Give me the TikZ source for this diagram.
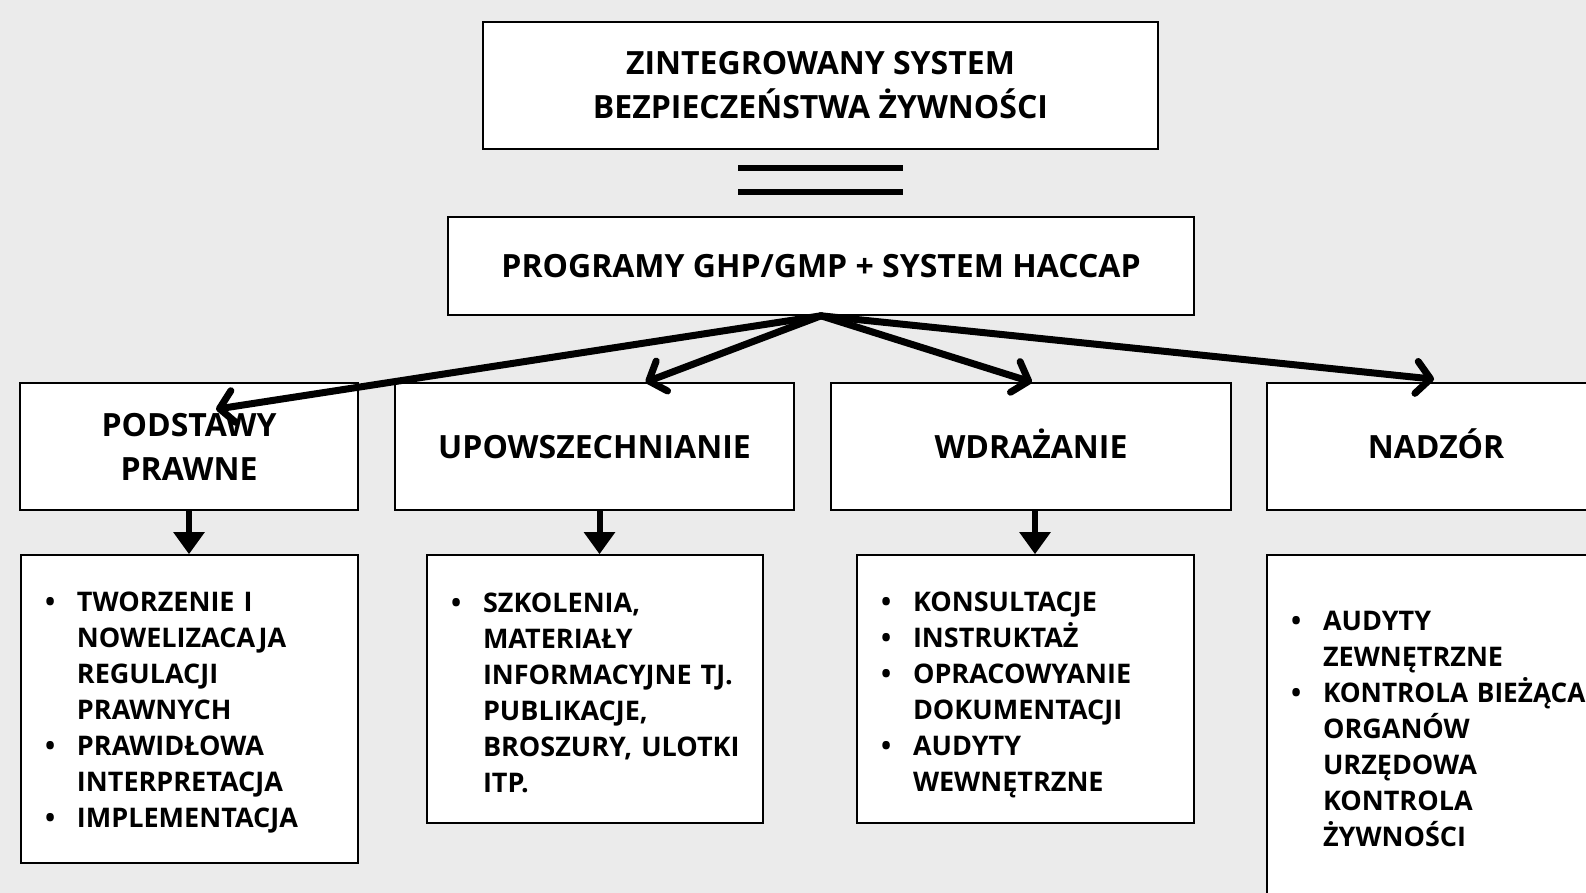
\documentclass[tikz,border=0pt]{standalone}
\usepackage{fontspec}
\usepackage{graphicx}
\setmainfont{Open Sans}
\usetikzlibrary{arrows.meta, calc}
\definecolor{bggray}{RGB}{235,235,235}
\tikzset{
  box/.style={
    rectangle,
    draw=black,
    line width=1.6pt,
    fill=white,
    align=center,
    inner sep=0pt,
    font=\bfseries\fontsize{32}{44}\selectfont
  },
  oneline/.style={text height=23pt, text depth=0pt},
  listbox/.style={
    box,
    align=left,
    inner xsep=24pt,
    font=\bfseries\fontsize{27}{36}\selectfont
  }
}
\tikzstyle{arrow} = [-{Straight Barb[length=14pt, width=32pt, line cap=round, line join=round]}, line width=7pt, line cap=round]
\tikzstyle{down} = [-{Triangle[length=22pt, width=30pt]}, line width=6pt]
\def\bul{\makebox[32pt][l]{\textbullet}}
\def\nob{\hspace*{32pt}}
\def\lift#1{\rule{0pt}{#1pt}}

\begin{document}
\begin{tikzpicture}[x=1pt, y=-1pt]
    \fill[bggray] (0,0) rectangle (1586,893);
    \useasboundingbox (0,0) rectangle (1586,893);
    \node[box, minimum width=675pt, minimum height=127pt] (zsbz) at (820.5, 85.5) {ZINTEGROWANY SYSTEM\\BEZPIECZEŃSTWA ŻYWNOŚCI};
    \draw[line width=6pt] (738,168) -- (903,168);
    \draw[line width=6pt] (738,192) -- (903,192);
    \node[box, oneline, minimum width=746pt, minimum height=98pt] (prog) at (821, 266) {PROGRAMY GHP/GMP + SYSTEM HACCAP};
    \node[box, minimum width=338pt, minimum height=127pt] (podst) at (189, 446.5) {PODSTAWY\\PRAWNE};
    \node[box, oneline, minimum width=399pt, minimum height=127pt] (upow) at (594.5, 446.5) {UPOWSZECHNIANIE};
    \node[box, oneline, minimum width=400pt, minimum height=127pt] (wdr) at (1031, 446.5) {WDRAŻANIE};
    \node[box, oneline, minimum width=338pt, minimum height=127pt] (nadz) at (1436, 446.5) {NADZÓR};
    \node[listbox, text width=289pt, minimum height=308pt] (lpodst) at (189.5, 709) {\lift{27}\bul TWORZENIE I\\\nob NOWELIZACAJA\\\nob REGULACJI\\\nob PRAWNYCH\\\bul PRAWIDŁOWA\\\nob INTERPRETACJA\\\bul IMPLEMENTACJA};
    \node[listbox, text width=288pt, minimum height=268pt] (lupow) at (595, 689) {\lift{27}\bul SZKOLENIA,\\\nob MATERIAŁY\\\nob INFORMACYJNE TJ.\\\nob PUBLIKACJE,\\\nob \mbox{BROSZURY, ULOTKI}\\\nob ITP.};
    \node[listbox, text width=289pt, minimum height=268pt] (lwdr) at (1025.5, 689) {\lift{31}\bul KONSULTACJE\\\bul INSTRUKTAŻ\\\bul OPRACOWYANIE\\\nob DOKUMENTACJI\\\bul AUDYTY\\\nob WEWNĘTRZNE};
    \node[listbox, text width=330pt, minimum height=348pt] (lnadz) at (1456, 729) {\bul AUDYTY\\\nob ZEWNĘTRZNE\\\bul \scalebox{0.97}[1]{KONTROLA BIEŻĄCA}\\\nob ORGANÓW\\\nob URZĘDOWA\\\nob KONTROLA\\\nob ŻYWNOŚCI};
    \draw[arrow] (prog.south) -- ([xshift=27pt, yshift=-27pt]podst.north);
    \draw[arrow] (prog.south) -- ([xshift=51pt]upow.north);
    \draw[arrow] (prog.south) -- ([xshift=1pt]wdr.north);
    \draw[arrow] (prog.south) -- ([xshift=-2pt, yshift=3pt]nadz.north);
    \draw[down] (podst.south) -- (podst.south |- lpodst.north);
    \draw[down] ([xshift=5pt]upow.south) -- ([xshift=5pt]upow.south |- lupow.north);
    \draw[down] ([xshift=4pt]wdr.south) -- ([xshift=4pt]wdr.south |- lwdr.north);
\end{tikzpicture}
\end{document}
